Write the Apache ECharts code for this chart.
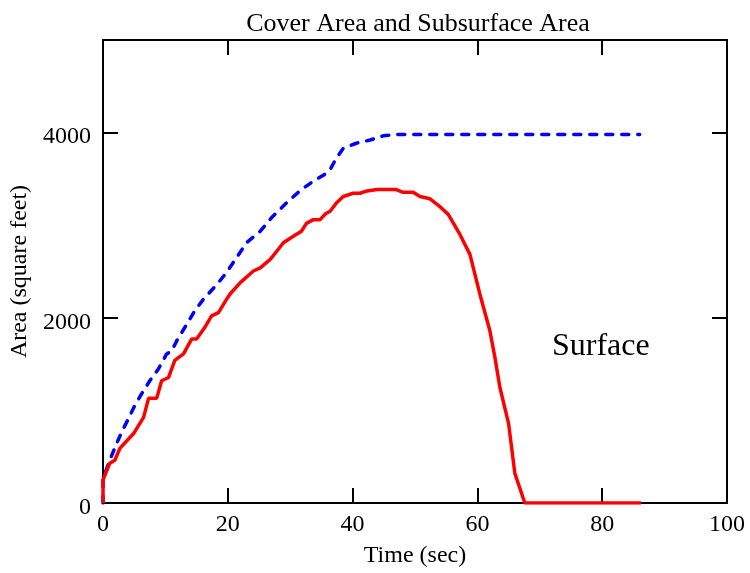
<!DOCTYPE html>
<html>
<head>
<meta charset="utf-8">
<script src="https://cdn.jsdelivr.net/npm/echarts@6/dist/echarts.min.js"></script>
<style>html,body{margin:0;padding:0;background:#fff}#c{width:750px;height:573px}</style>
</head>
<body>
<div id="c"></div>
<script>
var titleText = 'Cover Area and Subsurface Area';
var xName = 'Time (sec)';
var yName = 'Area (square feet)';
var annotation = 'Surface';

var redTime = [0, 0, 1.1, 1.9, 2.7, 4.9, 6.5, 7.3, 8.6, 9.4, 10.5, 11.5, 12.9, 14.2, 15, 16.3, 17.4, 18.5, 19.8, 20.4, 22, 24.1, 25.2, 26.8, 28.1, 28.9, 30.5, 31.8, 32.6, 33.7, 34.8, 35.6, 36.4, 37.4, 38.5, 40.1, 41.2, 42.3, 43.9, 47, 48.1, 49.7, 50.8, 52.4, 54, 55.3, 57.2, 58.8, 60.4, 62, 62.8, 63.6, 65, 66, 67.6, 86.2];
var redArea = [0, 250, 430, 462, 590, 750, 925, 1130, 1130, 1320, 1355, 1540, 1610, 1770, 1770, 1895, 2020, 2055, 2200, 2260, 2380, 2505, 2540, 2630, 2740, 2810, 2880, 2935, 3020, 3060, 3060, 3120, 3150, 3240, 3310, 3345, 3345, 3370, 3385, 3385, 3355, 3355, 3310, 3285, 3200, 3120, 2900, 2685, 2255, 1860, 1575, 1250, 857, 320, 0, 0];

var blueTime = [0, 0, 0.5, 1.4, 2.2, 3, 4.1, 5.1, 6.2, 7.5, 8.9, 10.2, 11, 11.8, 13.1, 14.7, 16.2, 18.2, 19.8, 21.4, 23, 25.2, 27, 29.7, 31.8, 33.7, 35.8, 36.4, 37.4, 38.5, 40.6, 42.8, 44.9, 47, 86];
var blueArea = [0, 250, 355, 515, 645, 767, 914, 1054, 1180, 1320, 1450, 1610, 1640, 1750, 1895, 2075, 2210, 2355, 2490, 2650, 2810, 2935, 3080, 3260, 3385, 3475, 3560, 3600, 3725, 3830, 3885, 3920, 3965, 3980, 3980];

function pairs(xs, ys) { var out = []; for (var i = 0; i < xs.length; i++) out.push([xs[i], ys[i]]); return out; }

var font = 'Liberation Serif';
var chart = echarts.init(document.getElementById('c'), null, {renderer: 'canvas'});
var axLine = {show: true, onZero: false, lineStyle: {color: '#000', width: 2}};
var tick = {show: true, inside: true, length: 15, lineStyle: {color: '#000', width: 2}};
var plain = function (v) { return String(v); };
chart.setOption({
  animation: false,
  backgroundColor: '#fff',
  title: {text: titleText, left: 413, textAlign: 'center', top: 6,
    textStyle: {fontFamily: font, fontSize: 26, fontWeight: 'normal', color: '#000'}},
  grid: {left: 103, right: 23, top: 40, bottom: 70},
  xAxis: [
    {type: 'value', min: 0, max: 100, interval: 20, position: 'bottom',
     name: xName, nameLocation: 'middle', nameGap: 41,
     nameTextStyle: {fontFamily: font, fontSize: 24, color: '#000'},
     axisLine: axLine, axisTick: tick, splitLine: {show: false},
     axisLabel: {fontFamily: font, fontSize: 24, color: '#000', margin: 10, formatter: plain}},
    {type: 'value', min: 0, max: 100, interval: 20, position: 'top',
     axisLine: axLine, axisTick: tick, splitLine: {show: false}, axisLabel: {show: false}}
  ],
  yAxis: [
    {type: 'value', min: 0, max: 5000, interval: 2000, position: 'left',
     name: yName, nameLocation: 'middle', nameGap: 70,
     nameTextStyle: {fontFamily: font, fontSize: 24, color: '#000'},
     axisLine: axLine, axisTick: tick, splitLine: {show: false},
     axisLabel: {fontFamily: font, fontSize: 24, color: '#000', margin: 12, showMaxLabel: false,
       formatter: plain, verticalAlign: 'top', lineHeight: 9}},
    {type: 'value', min: 0, max: 5000, interval: 2000, position: 'right',
     axisLine: axLine, axisTick: tick, splitLine: {show: false}, axisLabel: {show: false}}
  ],
  graphic: [{type: 'text', left: 552, top: 331,
    style: {text: annotation, font: '32px "Liberation Serif"', fill: '#000'}}],
  series: [
    {type: 'line', name: 'Cover', data: pairs(blueTime, blueArea), showSymbol: false,
     lineStyle: {color: '#0000ff', width: 3.5, type: [7, 9], cap: 'round'}, z: 3},
    {type: 'line', name: 'Subsurface', data: pairs(redTime, redArea), showSymbol: false,
     lineStyle: {color: '#ff0000', width: 3.5}, z: 4}
  ]
});
</script>
</body>
</html>
